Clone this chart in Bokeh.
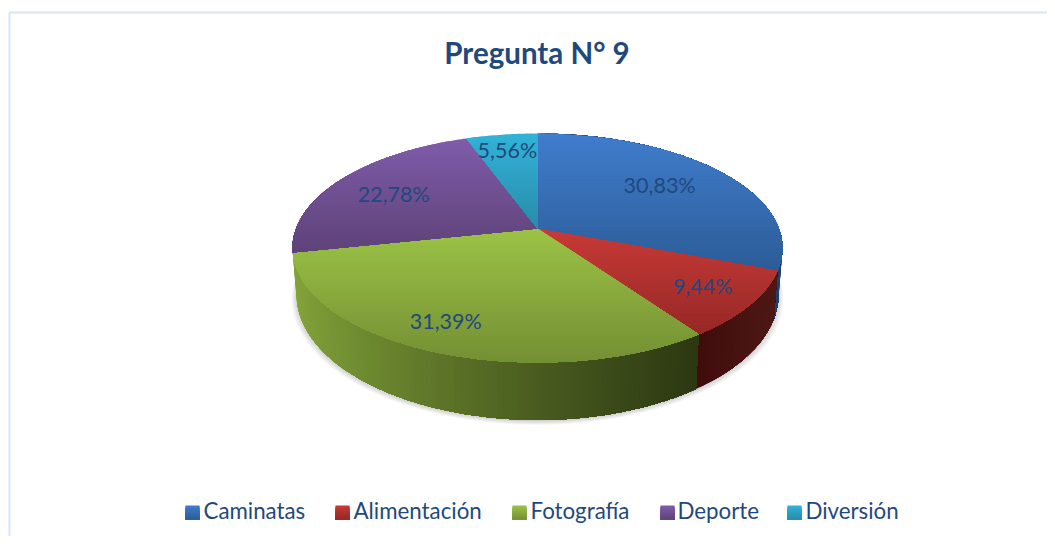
import math
from bokeh.plotting import figure
from bokeh.embed import file_html
from bokeh.resources import INLINE
from bokeh.core.properties import value

title = "Pregunta N° 9"
categories = ["Caminatas", "Alimentación", "Fotografía", "Deporte", "Diversión"]
percent = [30.83, 9.44, 31.39, 22.78, 5.56]
labels = ["30,83%", "9,44%", "31,39%", "22,78%", "5,56%"]

top_colors = [(64, 125, 205), (200, 58, 55), (156, 195, 70), (127, 92, 170), (50, 178, 216)]
low_colors = [(44, 92, 150), (150, 40, 38), (116, 143, 52), (94, 66, 120), (40, 140, 170)]
wall_left = [(28, 60, 100), (62, 12, 12), (132, 165, 58), None, None]
wall_right = [(30, 66, 110), (78, 24, 20), (44, 56, 18), None, None]
label_r = [0.678, 0.80, 0.809, 0.692, 0.786]
label_nudge = [-2.0, 0.0, 2.5, -3.0, 0.0]
legend_swatch_x = [185, 335, 512, 660, 787]
legend_text_x = [204, 354, 531, 678, 806]

W, H = 1047, 536
CX, CY = 537, 228
K, A, B = 0.1703, 111.2, 241.4
INK = "#1F497D"
FONT = "Lato"

def hexc(c):
    return "#%02x%02x%02x" % tuple(int(round(v)) for v in c)

def mix(a, b, t):
    t = max(0.0, min(1.0, t))
    return tuple(a[i] + (b[i] - a[i]) * t for i in range(3))

def project(deg, r=1.0):
    t = math.radians(deg)
    u, v = r * math.sin(t), r * math.cos(t)
    w = 1 + K * v
    return CX + B * u / w, CY - A * v / w

def floor_pt(px, py):
    return CX + 0.984 * (px - CX), CY + 1.1 * (py - CY) + 44

def clip(poly, y0, y1):
    def half(pts, keep, cross):
        out = []
        for i, a in enumerate(pts):
            b = pts[(i + 1) % len(pts)]
            if keep(a):
                out.append(a)
            if keep(a) != keep(b):
                t = (cross - a[1]) / (b[1] - a[1])
                out.append((a[0] + (b[0] - a[0]) * t, cross))
        return out
    pts = half(poly, lambda p: p[1] >= y0, y0)
    if pts:
        pts = half(pts, lambda p: p[1] <= y1, y1)
    return pts

p = figure(width=W, height=H, x_range=(0, W), y_range=(H, 0),
           output_backend="svg", toolbar_location=None, min_border=0,
           outline_line_color=None, background_fill_color="white", border_fill_color="white")
p.axis.visible = False
p.grid.visible = False

# frame
p.line([9, 9], [12, H], line_color="#D6E4F5", line_width=2)
p.line([9, W], [12, 12], line_color="#D6E4F5", line_width=2)

scale = 100.0 / sum(percent) * 3.6
edges = [0.0]
for v in percent:
    edges.append(edges[-1] + v * scale)

# soft shadow beneath the pie
rim = [project(a * 2.0) for a in range(181)]
for i in range(6):
    grow = 1 + i * 0.004
    pts = [floor_pt(x, y) for x, y in rim]
    xs = [CX + (x - CX) * grow for x, y in pts]
    ys = [y + 1 + i * 0.8 for x, y in pts]
    p.patch(xs, ys, fill_color="black", fill_alpha=0.03, line_color=None)

# side wall, walked along the rim from the values; each step overpaints the rest
for i in range(3):
    s, e = edges[i], edges[i + 1]
    n = max(2, int((e - s) / 1.0))
    angles = [s + (e - s) * j / n for j in range(n + 1)]
    tops = [project(a) for a in angles]
    floors = [floor_pt(*q) for q in tops]
    forward = tops[0][0] < tops[-1][0]
    order = list(range(n)) if forward else list(range(n - 1, -1, -1))
    xl = min(q[0] for q in tops)
    xr = max(q[0] for q in tops)
    for j in order:
        seg_t, seg_f = (tops[j:], floors[j:]) if forward else (tops[:j + 2], floors[:j + 2])
        mx = (tops[j][0] + tops[j + 1][0]) / 2
        t = (mx - xl) / max(1.0, xr - xl)
        c = hexc(mix(wall_left[i], wall_right[i], t ** 0.8))
        xs = [q[0] for q in seg_t] + [q[0] for q in reversed(seg_f)]
        ys = [q[1] for q in seg_t] + [q[1] for q in reversed(seg_f)]
        p.patch(xs, ys, fill_color=c, line_color=None)

# top surface, banded vertically for the gradient; each band overpaints the rest
for i in range(5):
    s, e = edges[i], edges[i + 1]
    n = max(2, int((e - s) / 0.75))
    poly = [(CX, CY)] + [project(s + (e - s) * j / n) for j in range(n + 1)]
    y0 = min(q[1] for q in poly)
    y1 = max(q[1] for q in poly)
    bands = max(1, int(y1 - y0) // 3)
    for b in range(bands):
        ya = y0 + (y1 - y0) * b / bands
        piece = clip(poly, ya, y1 + 1)
        if len(piece) < 3:
            continue
        c = hexc(mix(top_colors[i], low_colors[i], (b + 0.5) / bands))
        p.patch([q[0] for q in piece], [q[1] for q in piece], fill_color=c, line_color=None)

# data labels
for i in range(5):
    mid = (edges[i] + edges[i + 1]) / 2 + label_nudge[i]
    x, y = project(mid, label_r[i])
    p.text([x - 1], [y - 2], text=[labels[i]], text_font=value(FONT), text_font_size="21.5px",
           text_color=INK, text_align="center", text_baseline="middle")

p.text([536.5], [52], text=[title], text_font=value(FONT), text_font_size="29.5px",
       text_font_style="bold", text_color=INK, text_align="center", text_baseline="middle")

# legend
for i in range(5):
    sx = legend_swatch_x[i]
    for b in range(14):
        c = hexc(mix(top_colors[i], low_colors[i], (b + 0.5) / 14))
        p.quad(left=[sx], right=[sx + 14], top=[505 + b], bottom=[519], fill_color=c, line_color=None)
    p.text([legend_text_x[i] - 1], [510], text=[categories[i]], text_font=value(FONT), text_font_size="22.3px",
           text_color=INK, text_align="left", text_baseline="middle")

open("out.html", "w").write(file_html(p, INLINE))
